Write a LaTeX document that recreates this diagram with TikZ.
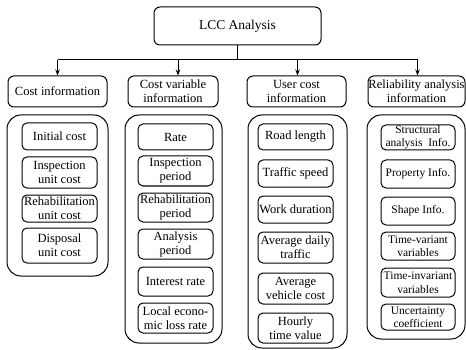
\documentclass[tikz,border=0pt]{standalone}
\usepackage{fontspec}
\setmainfont{Liberation Serif}
\usetikzlibrary{arrows.meta}
\newcommand\mkbox[7]{%
  \pgfmathsetmacro\bxw{#5-#3}\pgfmathsetmacro\bxh{#6-#4}%
  \node[#1, minimum width=\bxw pt, minimum height=\bxh pt] (#2) at ({(#3+#5)/2},{(#4+#6)/2}) {#7};}
\tikzset{
  base/.style={draw=black, line width=1pt, align=center, inner sep=0pt, font=\fontsize{12.5}{14}\selectfont},
  topbox/.style={base, rounded corners=6pt, font=\fontsize{13.5}{15}\selectfont},
  catbox/.style={base, rounded corners=6pt},
  grpbox/.style={base, rounded corners=14pt},
  itembox/.style={base, rounded corners=5pt},
  relbox/.style={itembox, font=\fontsize{11.5}{13.5}\selectfont},
  link/.style={draw=black, line width=1pt},
  arr/.style={link, -{Stealth[length=6pt,width=4.5pt]}}
}
\begin{document}
\begin{tikzpicture}[x=1pt,y=-1pt]
\useasboundingbox (0,0) rectangle (466,350);
% top
\mkbox{topbox}{lcc}{154}{7}{321}{45}{LCC Analysis}
% categories
\mkbox{catbox}{c1}{8}{76}{107}{107}{Cost information}
\mkbox{catbox}{c2}{128}{76}{218}{107}{Cost variable\\information}
\mkbox{catbox}{c3}{247}{76}{346}{107}{User cost\\information}
\mkbox{catbox}{c4}{368}{76}{465}{107}{Reliability analysis\\information}
% connectors
\coordinate (bus) at (237.5,60);
\draw[link] (lcc.south) -- (bus);
\draw[link] (c1.north |- bus) -- ([xshift=1pt]c4.north |- bus);
\draw[arr] (c1.north |- bus) -- (c1.north);
\draw[arr] ([xshift=5pt]c2.north |- bus) -- ([xshift=5pt]c2.north);
\draw[arr] ([xshift=1pt]c3.north |- bus) -- ([xshift=1pt]c3.north);
\draw[arr] ([xshift=1pt]c4.north |- bus) -- ([xshift=1pt]c4.north);
% groups
\mkbox{grpbox}{g1}{7}{115}{108}{276}{}
\mkbox{grpbox}{g2}{125}{115}{222}{343}{}
\mkbox{grpbox}{g3}{248}{115}{347}{348}{}
\mkbox{grpbox}{g4}{367}{115}{465}{339}{}
% group 1
\mkbox{itembox}{a1}{22}{123}{97}{150}{Initial cost}
\mkbox{itembox}{a2}{22}{157}{97}{188}{Inspection\\unit cost}
\mkbox{itembox}{a3}{22}{195}{97}{222}{Rehabilitation\\unit cost}
\mkbox{itembox}{a4}{22}{228}{97}{263}{Disposal\\unit cost}
% group 2
\mkbox{itembox}{b1}{138}{124}{213}{150}{Rate}
\mkbox{itembox}{b2}{138}{156}{213}{186}{Inspection\\period}
\mkbox{itembox}{b3}{138}{193}{213}{222}{Rehabilitation\\period}
\mkbox{itembox}{b4}{138}{229}{213}{259}{Analysis\\period}
\mkbox{itembox}{b5}{138}{267}{213}{296}{Interest rate}
\mkbox{itembox}{b6}{138}{303}{213}{333}{Local econo-\\mic loss rate}
% group 3
\mkbox{itembox}{d1}{258}{124}{333}{150}{Road length}
\mkbox{itembox}{d2}{258}{160}{333}{187}{Traffic speed}
\mkbox{itembox}{d3}{258}{196}{333}{223}{Work duration}
\mkbox{itembox}{d4}{258}{232}{333}{263}{Average daily\\traffic}
\mkbox{itembox}{d5}{258}{273}{333}{304}{Average\\vehicle cost}
\mkbox{itembox}{d6}{258}{313}{333}{343}{Hourly\\time value}
% group 4
\mkbox{relbox}{e1}{381}{125}{455}{150}{Structural\\analysis\ \ Info.}
\mkbox{relbox}{e2}{381}{160}{455}{188}{Property Info.}
\mkbox{relbox}{e3}{381}{197}{455}{225}{Shape Info.}
\mkbox{relbox}{e4}{381}{232}{455}{260}{Time-variant\\variables}
\mkbox{relbox}{e5}{381}{268}{455}{297}{Time-invariant\\variables}
\mkbox{relbox}{e6}{381}{304}{455}{330}{Uncertainty\\coefficient}
\end{tikzpicture}
\end{document}
